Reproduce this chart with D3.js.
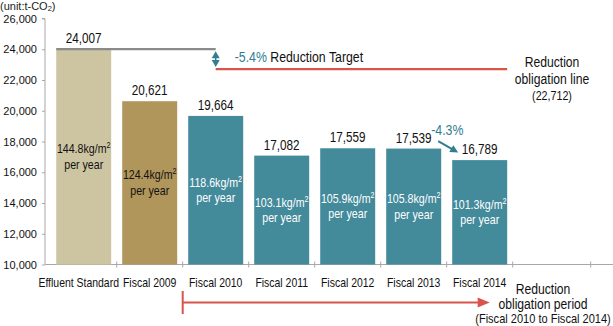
<!DOCTYPE html>
<html>
<head>
<meta charset="utf-8">
<script src="https://cdn.jsdelivr.net/npm/d3@7"></script>
<style>
  html, body { margin: 0; padding: 0; background: #fff; }
  svg { display: block; font-family: "Liberation Sans", Arial, Helvetica, sans-serif; }
</style>
</head>
<body>
<svg id="chart" width="613" height="326"></svg>
<script>
// ---- data ----
const categories = ["Effluent Standard", "Fiscal 2009", "Fiscal 2010", "Fiscal 2011", "Fiscal 2012", "Fiscal 2013", "Fiscal 2014"];
const emissions = [24007, 20621, 19664, 17082, 17559, 17539, 16789];
const intensity = ["144.8", "124.4", "118.6", "103.1", "105.9", "105.8", "101.3"];
const barKinds = ["standard", "base", "period", "period", "period", "period", "period"];
const yTicks = [10000, 12000, 14000, 16000, 18000, 20000, 22000, 24000, 26000];
const obligationLine = 22712;
const reductionTarget = "-5.4%";
const lastYearChange = "-4.3%";

// ---- styles ----
const colors = { standard: "#cdc5a2", base: "#b0965b", period: "#438a9b" };
const textColors = { standard: "#111", base: "#111", period: "#fff" };
const teal = "#2f7e91";
const red = "#d9544a";
const K = 0.85; // horizontal condensing of annotation text

const svg = d3.select("#chart");

// condensed text helper
function ctext(parent, px, py, size, anchor, fill) {
  return parent.append("text")
    .attr("transform", `translate(${px},${py}) scale(${K},1)`)
    .attr("text-anchor", anchor || "middle")
    .attr("font-size", size)
    .attr("fill", fill || "#111");
}

const y = d3.scaleLinear().domain([10000, 26000]).range([264.5, 18.5]);
const x = d3.scaleBand().domain(categories).range([50.7, 512.7]).paddingInner(0.167).paddingOuter(0.0835);
const step = x.step();
const axisX = 45;
const axisColor = "#a8a8a8";

// unit label
const unit = svg.append("text").attr("x", 0).attr("y", 9.5).attr("font-size", 11).attr("fill", "#222");
unit.append("tspan").text("(unit:t-CO");
unit.append("tspan").attr("font-size", 7.5).attr("dy", 1).text("2");
unit.append("tspan").attr("dy", -1).text(")");

// y axis
const yAxis = d3.axisLeft(y).tickValues(yTicks).tickSize(3).tickFormat(d3.format(","));
const gy = svg.append("g").attr("transform", `translate(${axisX},0)`).call(yAxis);
gy.select(".domain").attr("stroke", axisColor).attr("d", `M-3,${y(26000)}H0V${y(10000)}`);
gy.selectAll(".tick line").attr("stroke", axisColor);
gy.selectAll(".tick text").attr("font-size", 11).attr("fill", "#111").attr("x", -8)
  .attr("font-family", "'Liberation Sans', Arial, sans-serif");

// x axis line + ticks at band boundaries
svg.append("line").attr("x1", axisX).attr("x2", 613).attr("y1", y(10000)).attr("y2", y(10000))
  .attr("stroke", axisColor).attr("stroke-width", 1.2);
const boundaries = categories.map(c => x(c) + x.bandwidth() + (step - x.bandwidth()) / 2);
boundaries.push(boundaries[boundaries.length - 1] + 78);
svg.selectAll(".xt").data(boundaries).enter().append("line")
  .attr("x1", d => d).attr("x2", d => d)
  .attr("y1", y(10000) - 3).attr("y2", y(10000) + 3)
  .attr("stroke", axisColor);

// category labels (the long first label is nudged left, as in the original)
svg.selectAll(".cl").data(categories).enter().append("text")
  .attr("transform", (d, i) => `translate(${x(d) + x.bandwidth() / 2 - (i === 0 ? 5 : 0)},286.5) scale(${K},1)`)
  .attr("text-anchor", "middle").attr("font-size", 12.3).attr("fill", "#111")
  .text(d => d);

// bars
const rows = categories.map((c, i) => ({ c, v: emissions[i], k: barKinds[i], t: intensity[i] }));
svg.selectAll(".bar").data(rows).enter().append("rect")
  .attr("x", d => x(d.c)).attr("width", x.bandwidth())
  .attr("y", d => y(d.v)).attr("height", d => y(10000) - y(d.v))
  .attr("fill", d => colors[d.k]);

// value labels
svg.selectAll(".vl").data(rows).enter().append("text")
  .attr("transform", d => `translate(${x(d.c) + x.bandwidth() / 2},${y(d.v) - 6}) scale(${K},1)`)
  .attr("text-anchor", "middle").attr("font-size", 13.8).attr("fill", "#111")
  .text(d => d3.format(",")(d.v));

// intensity labels inside bars
rows.forEach(d => {
  const cx = x(d.c) + x.bandwidth() / 2;
  const mid = (y(d.v) + y(10000)) / 2;
  const t1 = ctext(svg, cx, mid - 3.5, 12.5, "middle", textColors[d.k]);
  t1.append("tspan").text(d.t + "kg/m");
  t1.append("tspan").attr("font-size", 8.5).attr("dy", -5).text("2");
  ctext(svg, cx, mid + 12, 12.5, "middle", textColors[d.k]).text("per year");
});

// grey standard line and red obligation line
const arrowX = x("Fiscal 2010") + x.bandwidth() / 2;
svg.append("line").attr("x1", x(categories[0])).attr("x2", arrowX)
  .attr("y1", y(emissions[0])).attr("y2", y(emissions[0]))
  .attr("stroke", "#8a8a8a").attr("stroke-width", 2.2);
svg.append("line").attr("x1", arrowX).attr("x2", x("Fiscal 2014") + x.bandwidth())
  .attr("y1", y(obligationLine)).attr("y2", y(obligationLine))
  .attr("stroke", red).attr("stroke-width", 2.2);

// double-headed teal arrow
const yTop = y(emissions[0]) + 2, yBot = y(obligationLine) - 2;
svg.append("line").attr("x1", arrowX).attr("x2", arrowX).attr("y1", yTop + 4).attr("y2", yBot - 4)
  .attr("stroke", teal).attr("stroke-width", 1.5);
svg.append("path").attr("fill", teal)
  .attr("d", `M${arrowX},${yTop}L${arrowX - 4},${yTop + 7}L${arrowX + 4},${yTop + 7}Z`);
svg.append("path").attr("fill", teal)
  .attr("d", `M${arrowX},${yBot}L${arrowX - 4},${yBot - 7}L${arrowX + 4},${yBot - 7}Z`);

// reduction target text
const rt = ctext(svg, arrowX + 19, y(obligationLine) - 7, 14.5, "start");
rt.append("tspan").attr("fill", teal).text(reductionTarget);
rt.append("tspan").attr("fill", "#111").text(" Reduction Target");

// obligation line label
const oblX = 552;
ctext(svg, oblX, 67, 14.3).text("Reduction");
ctext(svg, oblX, 83.5, 14.3).text("obligation line");
ctext(svg, oblX, 99.5, 12.6).text("(" + d3.format(",")(obligationLine) + ")");

// -4.3% arrow between Fiscal 2013 and 2014
const x13 = x("Fiscal 2013") + x.bandwidth(), x14 = x("Fiscal 2014");
ctext(svg, x13 - 10, y(emissions[5]) - 14, 14.5, "start", teal).text(lastYearChange);
const ax1 = x13 - 3, ay1 = y(emissions[5]) - 7.5, ax2 = x14 + 6, ay2 = y(emissions[6]) - 7.5;
const ang = Math.atan2(ay2 - ay1, ax2 - ax1);
svg.append("line").attr("x1", ax1).attr("y1", ay1)
  .attr("x2", ax2 - 6 * Math.cos(ang)).attr("y2", ay2 - 6 * Math.sin(ang))
  .attr("stroke", teal).attr("stroke-width", 2);
svg.append("path").attr("fill", teal)
  .attr("d", `M${ax2},${ay2}L${ax2 - 8 * Math.cos(ang) + 4 * Math.sin(ang)},${ay2 - 8 * Math.sin(ang) - 4 * Math.cos(ang)}L${ax2 - 8 * Math.cos(ang) - 4 * Math.sin(ang)},${ay2 - 8 * Math.sin(ang) + 4 * Math.cos(ang)}Z`);

// obligation period arrow
const pStart = x("Fiscal 2010") - (step - x.bandwidth()) / 2;
const pEnd = x("Fiscal 2014") + x.bandwidth() / 2 + 10;
const pY = 302.5;
svg.append("line").attr("x1", pStart).attr("x2", pStart).attr("y1", 291).attr("y2", 314)
  .attr("stroke", red).attr("stroke-width", 2);
svg.append("line").attr("x1", pStart).attr("x2", pEnd - 10).attr("y1", pY).attr("y2", pY)
  .attr("stroke", red).attr("stroke-width", 2);
svg.append("path").attr("fill", red).attr("d", `M${pEnd},${pY}L${pEnd - 12},${pY - 5}L${pEnd - 12},${pY + 5}Z`);

const perX = 543;
ctext(svg, perX, 294, 14.3).text("Reduction");
ctext(svg, perX, 308.5, 14.3).text("obligation period");
ctext(svg, perX, 322.5, 13).text("(Fiscal 2010 to Fiscal 2014)");
</script>
</body>
</html>
